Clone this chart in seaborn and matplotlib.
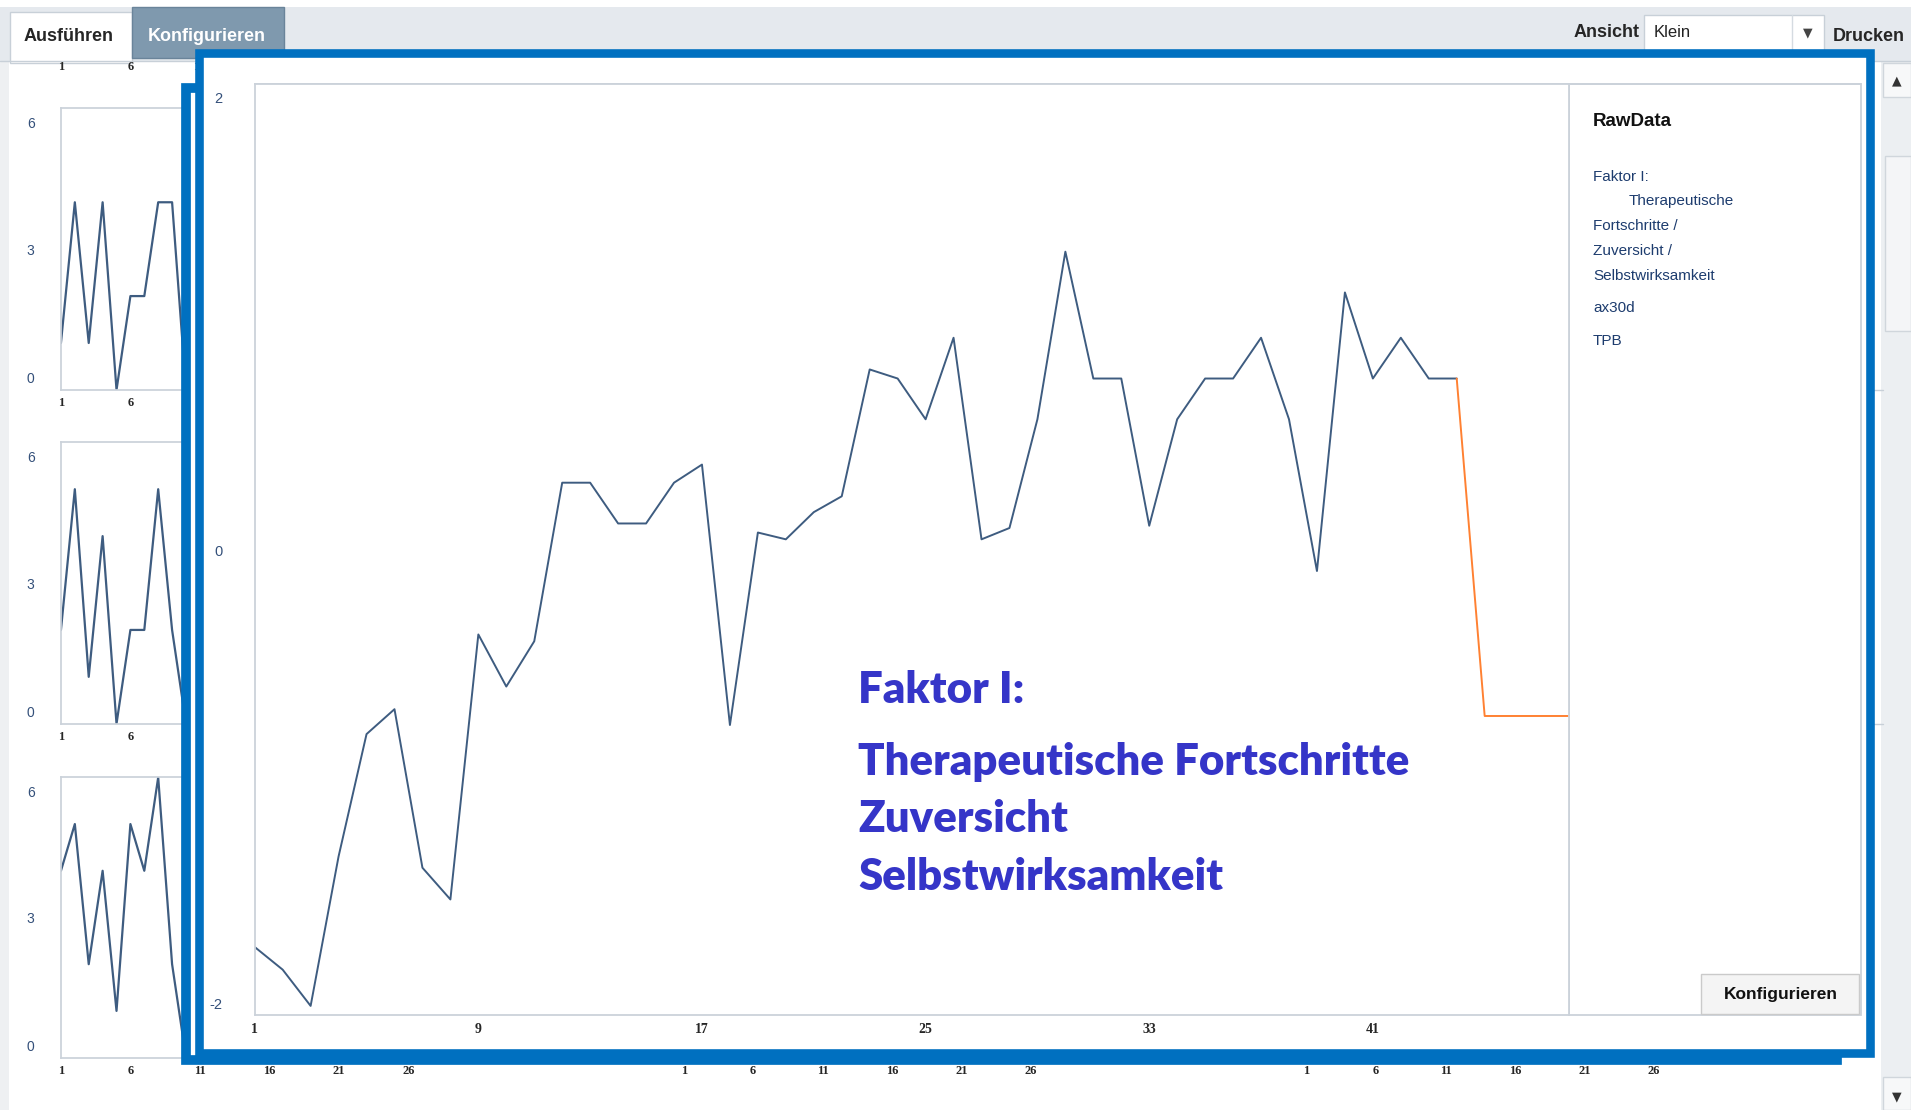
import pandas as pd
import seaborn as sns
import matplotlib.pyplot as plt
from matplotlib.patches import Rectangle
from matplotlib.transforms import ScaledTranslation

# Layout grid = screenshot at 1568x911, scaled up to 1911x1110 on save
W, H = 1568, 911

# Main chart: RawData (sessions 1..44) and the orange continuation (44..48)
raw_sessions = list(range(1, 45))
raw_values = [-1.75, -1.85, -2.01, -1.35, -0.81, -0.70, -1.40, -1.54, -0.37, -0.60,
              -0.40, 0.30, 0.30, 0.12, 0.12, 0.30, 0.38, -0.77, 0.08, 0.05,
              0.17, 0.24, 0.80, 0.76, 0.58, 0.94, 0.05, 0.10, 0.58, 1.32,
              0.76, 0.76, 0.11, 0.58, 0.76, 0.76, 0.94, 0.58, -0.09, 1.14,
              0.76, 0.94, 0.76, 0.76]
tail_sessions = [44, 45, 46, 47, 48]
tail_values = [0.76, -0.73, -0.73, -0.73, -0.73]
main_xticks = [1, 9, 17, 25, 33, 41]
main_yticks = [-2, 0, 2]

# Small thumbnail charts in the left column (only the first 10 points show)
small_sessions = list(range(1, 11))
small_a = [1, 4, 1, 4, 0, 2, 2, 4, 4, 0]
small_b = [2, 5, 1, 4, 0, 2, 2, 5, 2, 0]
small_c = [4, 5, 2, 4, 1, 5, 4, 6, 2, 0]
small_xticks = [1, 6, 11, 16, 21, 26]
small_yticks = [0, 3, 6]

legend_lines = ["Faktor I:", "Therapeutische", "Fortschritte /", "Zuversicht /", "Selbstwirksamkeit"]
legend_indent = [0, 29, 0, 0, 0]
note_lines = ["Faktor I:", "Therapeutische Fortschritte", "Zuversicht", "Selbstwirksamkeit"]

LINE = "#3e5c80"
ORANGE = "#ff8132"
FRAME = "#0070c0"
GRID = "#cbd2da"
TICKBLUE = "#34507a"
NOTE = "#3535c8"
NARROW = ["Liberation Sans Narrow", "Liberation Sans"]
SERIF = ["Liberation Serif", "DejaVu Serif"]

sns.set_theme(style="white")
plt.rcParams["font.family"] = ["Liberation Sans", "DejaVu Sans"]
plt.rcParams["axes.unicode_minus"] = False


def place(x0, y0, x1, y1):
    return [x0 / W, 1 - y1 / H, (x1 - x0) / W, (y1 - y0) / H]


def box(ax, x0, y0, x1, y1, **kw):
    ax.add_patch(Rectangle((x0, y0), x1 - x0, y1 - y0, **kw))


def canvas(z):
    ax = fig.add_axes([0, 0, 1, 1])
    ax.set_xlim(0, W)
    ax.set_ylim(H, 0)
    ax.axis("off")
    ax.set_zorder(z)
    return ax


def serif_ticks(ax):
    for lab in ax.get_xticklabels():
        lab.set_family(SERIF)
        lab.set_fontweight("bold")


fig = plt.figure(figsize=(19.11, 11.10), dpi=100)

# ---- background UI (tab bar, dropdown, scrollbar, stray tick labels)
bg = canvas(0)
box(bg, 0, 6, W, 50, facecolor="#e5e9ee", edgecolor="none")
bg.plot([0, W], [50, 50], color="#c8d0d8", lw=1)
box(bg, 0, 50, 7, H, facecolor="#eef0f2", edgecolor="none")
box(bg, 8, 10, 108, 52, facecolor="white", edgecolor="#c8d0d8", lw=1)
bg.text(56, 30, "Ausführen", ha="center", va="center", fontsize=13, fontweight="bold", family=NARROW)
box(bg, 108, 6, 233, 48, facecolor="#7f99ae", edgecolor="#6a849a", lw=1)
bg.text(170, 30, "Konfigurieren", ha="center", va="center", fontsize=13, fontweight="bold",
        color="white", family=NARROW)
bg.text(1345, 27, "Ansicht", ha="right", va="center", fontsize=13, fontweight="bold", family=NARROW)
box(bg, 1349, 12, 1497, 42, facecolor="white", edgecolor="#c8d0d8", lw=1)
bg.plot([1470, 1470], [12, 42], color="#d5dbe1", lw=1)
bg.text(1357, 27, "Klein", ha="left", va="center", fontsize=12, family=NARROW, color="#222222")
bg.text(1483, 27, "▼", ha="center", va="center", fontsize=9, color="#444444", family="DejaVu Sans")
bg.text(1533, 30, "Drucken", ha="center", va="center", fontsize=13, fontweight="bold", family=NARROW)
box(bg, 1543, 50, W, H, facecolor="#eceff2", edgecolor="none")
box(bg, 1545, 52, W, 80, facecolor="#f7f8f9", edgecolor="#d0d6dc", lw=1)
bg.text(1556, 66, "▲", ha="center", va="center", fontsize=9, color="#333333", family="DejaVu Sans")
box(bg, 1547, 128, W, 272, facecolor="#f4f5f7", edgecolor="#d0d6dc", lw=1)
box(bg, 1545, 884, W, H, facecolor="#f7f8f9", edgecolor="#d0d6dc", lw=1)
bg.text(1556, 900, "▼", ha="center", va="center", fontsize=9, color="#333333", family="DejaVu Sans")
for yy in (320, 594):
    bg.plot([1538, 1545], [yy, yy], color="#c8d0d8", lw=1)
for xx, lab in [(50, "1"), (107, "6"), (161, "1")]:
    bg.text(xx, 55, lab, ha="center", va="center", fontsize=9, fontweight="bold", family=SERIF)

# ---- thumbnail charts (left column) and hidden columns
up = ScaledTranslation(0, 0.12, fig.dpi_scale_trans)
down = ScaledTranslation(0, -0.145, fig.dpi_scale_trans)
small_rows = [(89, 320, small_a), (363, 594, small_b), (638, 868, small_c)]
for top, bottom, vals in small_rows:
    sax = fig.add_axes(place(50, top, 50 + 28 * 11.4, bottom))
    sax.set_zorder(1)
    sns.lineplot(x=small_sessions, y=vals, ax=sax, color=LINE, linewidth=1.6)
    sax.set_xlim(1, 29)
    sax.set_ylim(0, 6)
    sax.set_xticks(small_xticks)
    sax.set_yticks(small_yticks)
    sax.tick_params(axis="y", length=0, pad=19, labelsize=10, labelcolor=TICKBLUE)
    sax.tick_params(axis="x", length=0, pad=5, labelsize=9)
    serif_ticks(sax)
    ylabs = sax.get_yticklabels()
    ylabs[0].set_transform(ylabs[0].get_transform() + up)
    ylabs[-1].set_transform(ylabs[-1].get_transform() + down)
    for side in ("left", "top", "bottom"):
        sax.spines[side].set_color(GRID)
    sax.spines["right"].set_visible(False)

for left in (561, 1072):
    hax = fig.add_axes(place(left, 638, left + 28 * 11.4, 868))
    hax.set_zorder(1)
    hax.set_xlim(1, 29)
    hax.set_xticks(small_xticks)
    hax.set_yticks([])
    hax.tick_params(axis="x", length=0, pad=5, labelsize=9)
    serif_ticks(hax)
    for s in hax.spines.values():
        s.set_visible(False)
    hax.patch.set_alpha(0)

# ---- highlight frames and the enlarged panel
ov = canvas(2)
box(ov, 153, 72, 1507, 870, facecolor="white", edgecolor=FRAME, lw=7.0)
box(ov, 163.5, 43.5, 1534.5, 864.5, facecolor="white", edgecolor=FRAME, lw=6.2)
box(ov, 1287, 69, 1527, 833, facecolor="white", edgecolor=GRID, lw=1.3)
ov.plot([209, 1527], [69, 69], color=GRID, lw=1.3)
ov.text(1307, 100, "RawData", ha="left", va="center", fontsize=13.5, fontweight="bold", color="#111111")
for i, txt in enumerate(legend_lines):
    ov.text(1307 + legend_indent[i], 145 + i * 20.3, txt, ha="left", va="center", fontsize=11,
            color="#1d3c6e", family=NARROW)
ov.text(1307, 253, "ax30d", ha="left", va="center", fontsize=11, color="#1d3c6e", family=NARROW)
ov.text(1307, 280, "TPB", ha="left", va="center", fontsize=11, color="#1d3c6e", family=NARROW)
box(ov, 1396, 799, 1525, 832, facecolor="#f4f4f4", edgecolor="#cacaca", lw=1)
ov.text(1461, 816, "Konfigurieren", ha="center", va="center", fontsize=12.5, fontweight="bold", color="#111111")

# ---- main chart
ax = fig.add_axes(place(209, 69, 1287, 833))
ax.set_zorder(3)
main_df = pd.DataFrame({"session": raw_sessions, "value": raw_values})
tail_df = pd.DataFrame({"session": tail_sessions, "value": tail_values})
sns.lineplot(data=main_df, x="session", y="value", ax=ax, color=LINE, linewidth=1.4)
sns.lineplot(data=tail_df, x="session", y="value", ax=ax, color=ORANGE, linewidth=1.4)
ax.set_xlim(1, 48)
ax.set_ylim(-2.05, 2.06)
ax.set_xticks(main_xticks)
ax.set_yticks(main_yticks)
ax.set_xlabel("")
ax.set_ylabel("")
ax.tick_params(axis="y", length=0, pad=23, labelsize=10.5, labelcolor=TICKBLUE)
ax.tick_params(axis="x", length=0, pad=5.5, labelsize=10)
serif_ticks(ax)
for side in ("left", "top", "bottom", "right"):
    ax.spines[side].set_color(GRID)
    ax.spines[side].set_linewidth(1.3)

# ---- big annotation on top
top = canvas(5)
for txt, yy in zip(note_lines, [566, 625, 672, 720]):
    top.text(704, yy, txt, ha="left", va="center", fontsize=31.5, fontweight="heavy",
             color=NOTE, family=["Lato", "DejaVu Sans"])

fig.savefig("out.png", dpi=100)
